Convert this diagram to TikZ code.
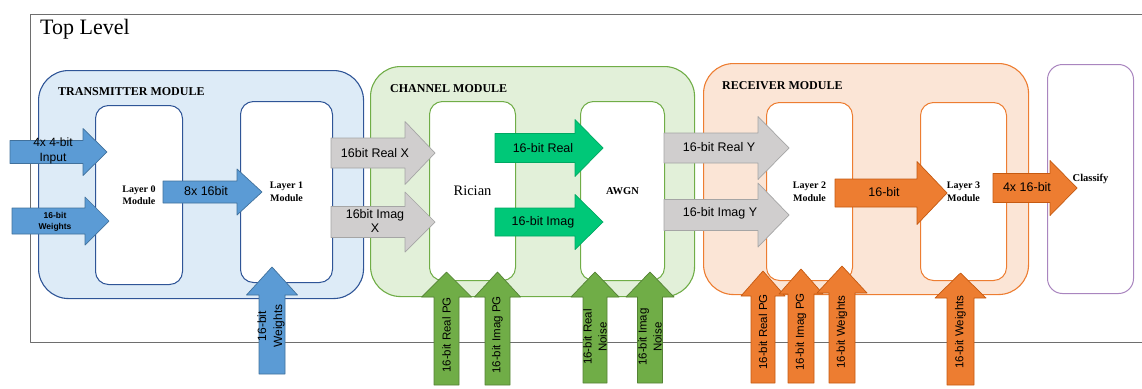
\documentclass[tikz,border=0pt]{standalone}
\usepackage{fontspec}
\setmainfont{Liberation Serif}
\setsansfont{Liberation Sans}
\usetikzlibrary{calc}
\definecolor{topgray}{HTML}{6E6E6E}
\definecolor{txfill}{HTML}{DDEBF7}
\definecolor{txline}{HTML}{2F5597}
\definecolor{chfill}{HTML}{E2F0D9}
\definecolor{chline}{HTML}{70AD47}
\definecolor{rxfill}{HTML}{FBE5D6}
\definecolor{rxline}{HTML}{ED7D31}
\definecolor{clsline}{HTML}{A985BF}
\definecolor{bluearrow}{HTML}{5B9BD5}
\definecolor{blueedge}{HTML}{41719C}
\definecolor{grayarrow}{HTML}{D0CECE}
\definecolor{grayedge}{HTML}{A5A5A5}
\definecolor{mint}{HTML}{00C878}
\definecolor{mintedge}{HTML}{00A862}
\definecolor{leaf}{HTML}{70AD47}
\definecolor{leafedge}{HTML}{548235}
\definecolor{orangearrow}{HTML}{ED7D31}
\definecolor{orangeedge}{HTML}{C55A11}
\tikzset{
  % Base styles
  diagram base/.style={x=1pt, y=-1pt, line join=round},
  % Frames
  top box/.style={draw=topgray, line width=0.9pt},
  module/.style 2 args={draw=#1, fill=#2, line width=1.1pt, rounded corners=30pt,
    anchor=north west, inner sep=0pt},
  module label/.style={font=\fontsize{12}{13}\selectfont\bfseries, anchor=west, inner sep=0pt},
  inner box/.style={draw=#1, fill=white, line width=1pt, rounded corners=13pt,
    anchor=north west, inner sep=0pt, align=center,
    font=\fontsize{10}{12.5}\selectfont\bfseries},
  % Block arrows: shaft half width, head half width, head length
  fat arrow/.style n args={3}{
    to path={
      let \p1=($(\tikztotarget)!#3!(\tikztostart)$) in
      ($(\tikztostart)!#1!90:(\tikztotarget)$) -- ($(\p1)!#1!90:(\tikztotarget)$)
      -- ($(\p1)!#2!90:(\tikztotarget)$) -- (\tikztotarget)
      -- ($(\p1)!#2!-90:(\tikztotarget)$) -- ($(\p1)!#1!-90:(\tikztotarget)$)
      -- ($(\tikztostart)!#1!-90:(\tikztotarget)$) -- cycle
    }
  },
  tx arrow/.style={fill=bluearrow, draw=blueedge, line width=0.7pt},
  link arrow/.style={fill=grayarrow, draw=grayedge, line width=0.7pt},
  mint arrow/.style={fill=mint, draw=mintedge, line width=0.7pt},
  leaf arrow/.style={fill=leaf, draw=leafedge, line width=0.7pt},
  rx arrow/.style={fill=orangearrow, draw=orangeedge, line width=0.7pt},
  % Arrow labels
  arrow label/.style={font=\sffamily\fontsize{12.5}{14}\selectfont, align=center, inner sep=0pt},
  side label/.style={arrow label, rotate=90, font=\sffamily\fontsize{11.5}{15}\selectfont},
}

\begin{document}
\begin{tikzpicture}[diagram base]
\useasboundingbox (0,0) rectangle (1142,388);

% Top level frame
\draw[top box] (30,14) rectangle (1150,342);
\node[anchor=base west, inner sep=0pt, font=\fontsize{22}{23}\selectfont] (top) at (40,34) {Top Level};

% Modules
\node[module={txline}{txfill}, minimum width=325pt, minimum height=228pt] (tx) at (38,70) {};
\node[module={chline}{chfill}, minimum width=324pt, minimum height=230pt] (ch) at (370,66) {};
\node[module={rxline}{rxfill}, minimum width=325pt, minimum height=231pt] (rx) at (703,63) {};
\node[module label] (tx label) at (58,92) {TRANSMITTER MODULE};
\node[module label] (ch label) at (390,89) {CHANNEL MODULE};
\node[module label] (rx label) at (722,86) {RECEIVER MODULE};

% Inner blocks
\node[inner box=txline, minimum width=87pt, minimum height=179pt] (l0) at (95,105) {Layer 0\\Module};
\node[inner box=txline, minimum width=92pt, minimum height=181pt] (l1) at (240,101) {Layer 1\\Module};
\node[inner box=chline, minimum width=86pt, minimum height=179pt,
  font=\fontsize{14.5}{16}\selectfont] (rician) at (429,101) {Rician};
\node[inner box=chline, minimum width=84pt, minimum height=179pt,
  font=\fontsize{10.5}{12}\selectfont\bfseries] (awgn) at (580,101) {AWGN};
\node[inner box=rxline, minimum width=86pt, minimum height=178pt] (l2) at (766,102) {Layer 2\\Module};
\node[inner box=rxline, minimum width=86pt, minimum height=178pt] (l3) at (920,102) {Layer 3\\Module};
\node[inner box=clsline, rounded corners=15pt, minimum width=86pt, minimum height=229pt,
  font=\fontsize{10.5}{12}\selectfont\bfseries] (cls) at (1047,64) {Classify};

% Arrow end points
\coordinate (in1 s) at (10,152);   \coordinate (in1 e) at (107,152);
\coordinate (in2 s) at (12,221);   \coordinate (in2 e) at (109,221);
\coordinate (l01 s) at (163,192);  \coordinate (l01 e) at (262,192);
\coordinate (w1 s) at (272,374);   \coordinate (w1 e) at (272,267);
\coordinate (rex s) at (331,153);  \coordinate (rex e) at (435,153);
\coordinate (imx s) at (331,222);  \coordinate (imx e) at (435,222);
\coordinate (re s) at (495,148);   \coordinate (re e) at (603,148);
\coordinate (im s) at (495,222);   \coordinate (im e) at (603,222);
\coordinate (rpg s) at (446.5,385); \coordinate (rpg e) at (446.5,272);
\coordinate (ipg s) at (497.5,385); \coordinate (ipg e) at (497.5,272);
\coordinate (rn s) at (595,383);   \coordinate (rn e) at (595,272);
\coordinate (in s) at (650,383);   \coordinate (in e) at (650,272);
\coordinate (rey s) at (664,148);  \coordinate (rey e) at (789,148);
\coordinate (imy s) at (664,215);  \coordinate (imy e) at (789,215);
\coordinate (l23 s) at (835,193);  \coordinate (l23 e) at (947,193);
\coordinate (out s) at (993,188);  \coordinate (out e) at (1077,188);
\coordinate (rxr s) at (763,383);  \coordinate (rxr e) at (763,271);
\coordinate (rxi s) at (801,383);  \coordinate (rxi e) at (801,269);
\coordinate (rxw s) at (842,383);  \coordinate (rxw e) at (842,266);
\coordinate (l3w s) at (960.5,385); \coordinate (l3w e) at (960.5,273);

% Transmitter arrows
\draw[tx arrow, fat arrow={11.5pt}{23.5pt}{24pt}] (in1 s) to (in1 e);
\draw[tx arrow, fat arrow={13pt}{24pt}{24pt}] (in2 s) to (in2 e);
\draw[tx arrow, fat arrow={11pt}{23pt}{25pt}] (l01 s) to (l01 e);
\draw[tx arrow, fat arrow={13pt}{25.5pt}{28pt}] (w1 s) to (w1 e);

% Channel arrows
\draw[link arrow, fat arrow={15pt}{31.5pt}{30pt}] (rex s) to (rex e);
\draw[link arrow, fat arrow={15.5pt}{30pt}{30pt}] (imx s) to (imx e);
\draw[mint arrow, fat arrow={14.5pt}{28.5pt}{28pt}] (re s) to (re e);
\draw[mint arrow, fat arrow={14pt}{27.5pt}{28pt}] (im s) to (im e);
\draw[leaf arrow, fat arrow={12.5pt}{25pt}{25pt}] (rpg s) to (rpg e);
\draw[leaf arrow, fat arrow={12.5pt}{23pt}{25pt}] (ipg s) to (ipg e);
\draw[leaf arrow, fat arrow={12pt}{24pt}{25pt}] (rn s) to (rn e);
\draw[leaf arrow, fat arrow={12.5pt}{24pt}{25pt}] (in s) to (in e);

% Receiver arrows
\draw[link arrow, fat arrow={15pt}{31.5pt}{31pt}] (rey s) to (rey e);
\draw[link arrow, fat arrow={15.5pt}{32pt}{31pt}] (imy s) to (imy e);
\draw[rx arrow, fat arrow={14pt}{31.5pt}{30pt}] (l23 s) to (l23 e);
\draw[rx arrow, fat arrow={14.5pt}{27.5pt}{27pt}] (out s) to (out e);
\draw[rx arrow, fat arrow={12pt}{22pt}{25pt}] (rxr s) to (rxr e);
\draw[rx arrow, fat arrow={13pt}{22pt}{25pt}] (rxi s) to (rxi e);
\draw[rx arrow, fat arrow={13pt}{25pt}{27pt}] (rxw s) to (rxw e);
\draw[rx arrow, fat arrow={13.5pt}{25.5pt}{25pt}] (l3w s) to (l3w e);

% Arrow labels
\node[arrow label, font=\sffamily\fontsize{12}{15}\selectfont] (in1 txt) at (53,151) {4x 4-bit\\Input};
\node[arrow label, font=\sffamily\bfseries\fontsize{8.5}{11}\selectfont] (in2 txt) at (55,222) {16-bit\\Weights};
\node[arrow label] (l01 txt) at (206,191) {8x 16bit};
\node[side label, font=\sffamily\fontsize{12}{16}\selectfont] (w1 txt) at (271,326) {16-bit\\Weights};
\node[arrow label] (rex txt) at (375,153) {16bit Real X};
\node[arrow label] (imx txt) at (375,221) {16bit Imag\\X};
\node[arrow label] (re txt) at (543,148) {16-bit Real};
\node[arrow label] (im txt) at (543,222) {16-bit Imag};
\node[side label] (rpg txt) at (446.5,335) {16-bit Real PG};
\node[side label] (ipg txt) at (497.5,335) {16-bit Imag PG};
\node[side label] (rn txt) at (595,337) {16-bit Real\\Noise};
\node[side label] (in txt) at (650,337) {16-bit Imag\\Noise};
\node[arrow label] (rey txt) at (719,147) {16-bit Real Y};
\node[arrow label] (imy txt) at (720,213) {16-bit Imag Y};
\node[arrow label] (l23 txt) at (884,192) {16-bit};
\node[arrow label] (out txt) at (1027,187) {4x 16-bit};
\node[side label] (rxr txt) at (763,332) {16-bit Real PG};
\node[side label] (rxi txt) at (801,332) {16-bit Imag PG};
\node[side label] (rxw txt) at (842,332) {16-bit Weights};
\node[side label] (l3w txt) at (960.5,332) {16-bit Weights};
\end{tikzpicture}
\end{document}
